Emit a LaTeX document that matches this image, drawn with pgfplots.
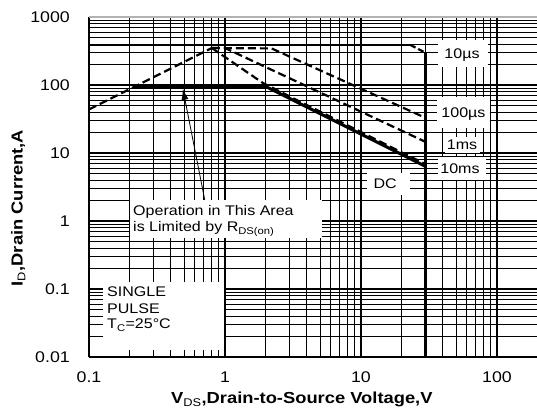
\documentclass[border=0pt]{standalone}
\usepackage{fontspec}
\setmainfont{Liberation Sans}[FakeStretch=1.15]
\usepackage{pgfplots}
\pgfplotsset{compat=1.18}
\usetikzlibrary{arrows.meta}
\begin{document}
\begin{tikzpicture}
\useasboundingbox (-89bp,-56bp) rectangle (448bp,357bp);
\begin{axis}[
  at={(0,0)}, anchor=south west,
  scale only axis, width=448bp, height=340bp,
  xmode=log, ymode=log,
  xmin=0.1, xmax=197, ymin=0.01, ymax=1000,
  axis x line*=bottom, axis y line*=left,
  axis line style={black, line width=1.4bp, -},
  xtick={0.1,1,10,100}, xticklabels={0.1,1,10,100},
  ytick={0.01,0.1,1,10,100,1000}, yticklabels={0.01,0.1,1,10,100,1000},
  minor xtick={0.2,0.3,0.4,0.5,0.6,0.7,0.8,0.9,2,3,4,5,6,7,8,9,20,30,40,50,60,70,80,90},
  minor ytick={0.02,0.03,0.04,0.05,0.06,0.07,0.08,0.09,0.2,0.3,0.4,0.5,0.6,0.7,0.8,0.9,2,3,4,5,6,7,8,9,20,30,40,50,60,70,80,90,200,300,400,500,600,700,800,900},
  grid=both,
  major grid style={black, line width=1.4bp},
  minor grid style={black, line width=1.05bp},
  major tick length=0pt, minor tick length=0pt,
  ticklabel style={font=\fontsize{15.5}{16}\selectfont},
  xticklabel style={anchor=north, inner sep=0pt, yshift=-15bp},
  yticklabel style={anchor=east, inner sep=0pt, xshift=-19bp},
  clip=false,
]
% R_DS(on) limit
\addplot[black, line width=2.2bp, dash pattern=on 8bp off 4bp] coordinates {(0.1,43.75) (0.8,350)};
% 10 us
\addplot[black, line width=2.5bp] coordinates {(0.1,390) (23,390)};
\addplot[black, line width=2.2bp, dash pattern=on 6bp off 3bp] coordinates {(23,390) (30,296)};
% V_DS limit
\addplot[black, line width=3bp] coordinates {(30,296) (30,0.01)};
% 100 us
\addplot[black, line width=2.2bp, dash pattern=on 8bp off 4bp] coordinates {(0.8,350) (2.2,345) (30,32.7)};
% 1 ms
\addplot[black, line width=2.2bp, dash pattern=on 8bp off 4bp] coordinates {(0.8,350) (1.0,350) (30,14.5)};
% DC
\addplot[black, line width=3bp] coordinates {(0.2126,93) (2.04,93) (30,6.33)};
% 10 ms
\addplot[black, line width=2.2bp, dash pattern=on 8bp off 4bp] coordinates {(0.8,350) (1.9,107) (3.56,57) (30,6.8)};

% arrow
\draw[black, line width=0.8bp, -{Latex[length=11bp,width=7bp]}] (axis cs:0.71,2.04) -- (axis cs:0.49,88);

% white boxes
\fill[white] (rel axis cs:0.779,0.932) rectangle (rel axis cs:0.891,0.853);
\fill[white] (rel axis cs:0.777,0.765) rectangle (rel axis cs:0.895,0.674);
\fill[white] (rel axis cs:0.795,0.647) rectangle (rel axis cs:0.873,0.600);
\fill[white] (rel axis cs:0.779,0.588) rectangle (rel axis cs:0.886,0.521);
\fill[white] (rel axis cs:0.6205,0.541) rectangle (rel axis cs:0.7165,0.476);
\fill[white] (rel axis cs:0.0915,0.462) rectangle (rel axis cs:0.52,0.35);
\fill[white] (rel axis cs:0.03125,0.2206) rectangle (rel axis cs:0.301,0.0206);

% labels
\begin{scope}[every node/.style={font=\fontsize{14}{16}\selectfont, inner sep=0pt}]
\node[anchor=base] at (rel axis cs:0.8326,0.879) {10µs};
\node[anchor=base] at (rel axis cs:0.8359,0.703) {100µs};
\node[anchor=base] at (rel axis cs:0.8326,0.609) {1ms};
\node[anchor=base] at (rel axis cs:0.8281,0.541) {10ms};
\node[anchor=base] at (rel axis cs:0.661,0.497) {DC};
\node[anchor=base west] at (rel axis cs:0.0982,0.4176) {Operation in This Area};
\node[anchor=base west] at (rel axis cs:0.0982,0.368) {is Limited by R\textsubscript{DS(on)}};
\node[anchor=base west] at (rel axis cs:0.0402,0.1765) {SINGLE};
\node[anchor=base west] at (rel axis cs:0.0402,0.1294) {PULSE};
\node[anchor=base west] at (rel axis cs:0.0402,0.0824) {T\textsubscript{C}=25°C};
\end{scope}

% top line
\draw[gray!60, line width=1.5bp] (rel axis cs:0,1) -- (rel axis cs:1,1);

% axis labels
\node[font=\fontsize{16}{17}\selectfont\bfseries] at (rel axis cs:0.475,-0.126) {V\textsubscript{\normalfont DS},Drain-to-Source Voltage,V};
\node[font=\fontsize{16}{17}\selectfont\bfseries, rotate=90] at (rel axis cs:-0.158,0.438) {I\textsubscript{\normalfont D},Drain Current,A};
\end{axis}
\end{tikzpicture}
\end{document}
